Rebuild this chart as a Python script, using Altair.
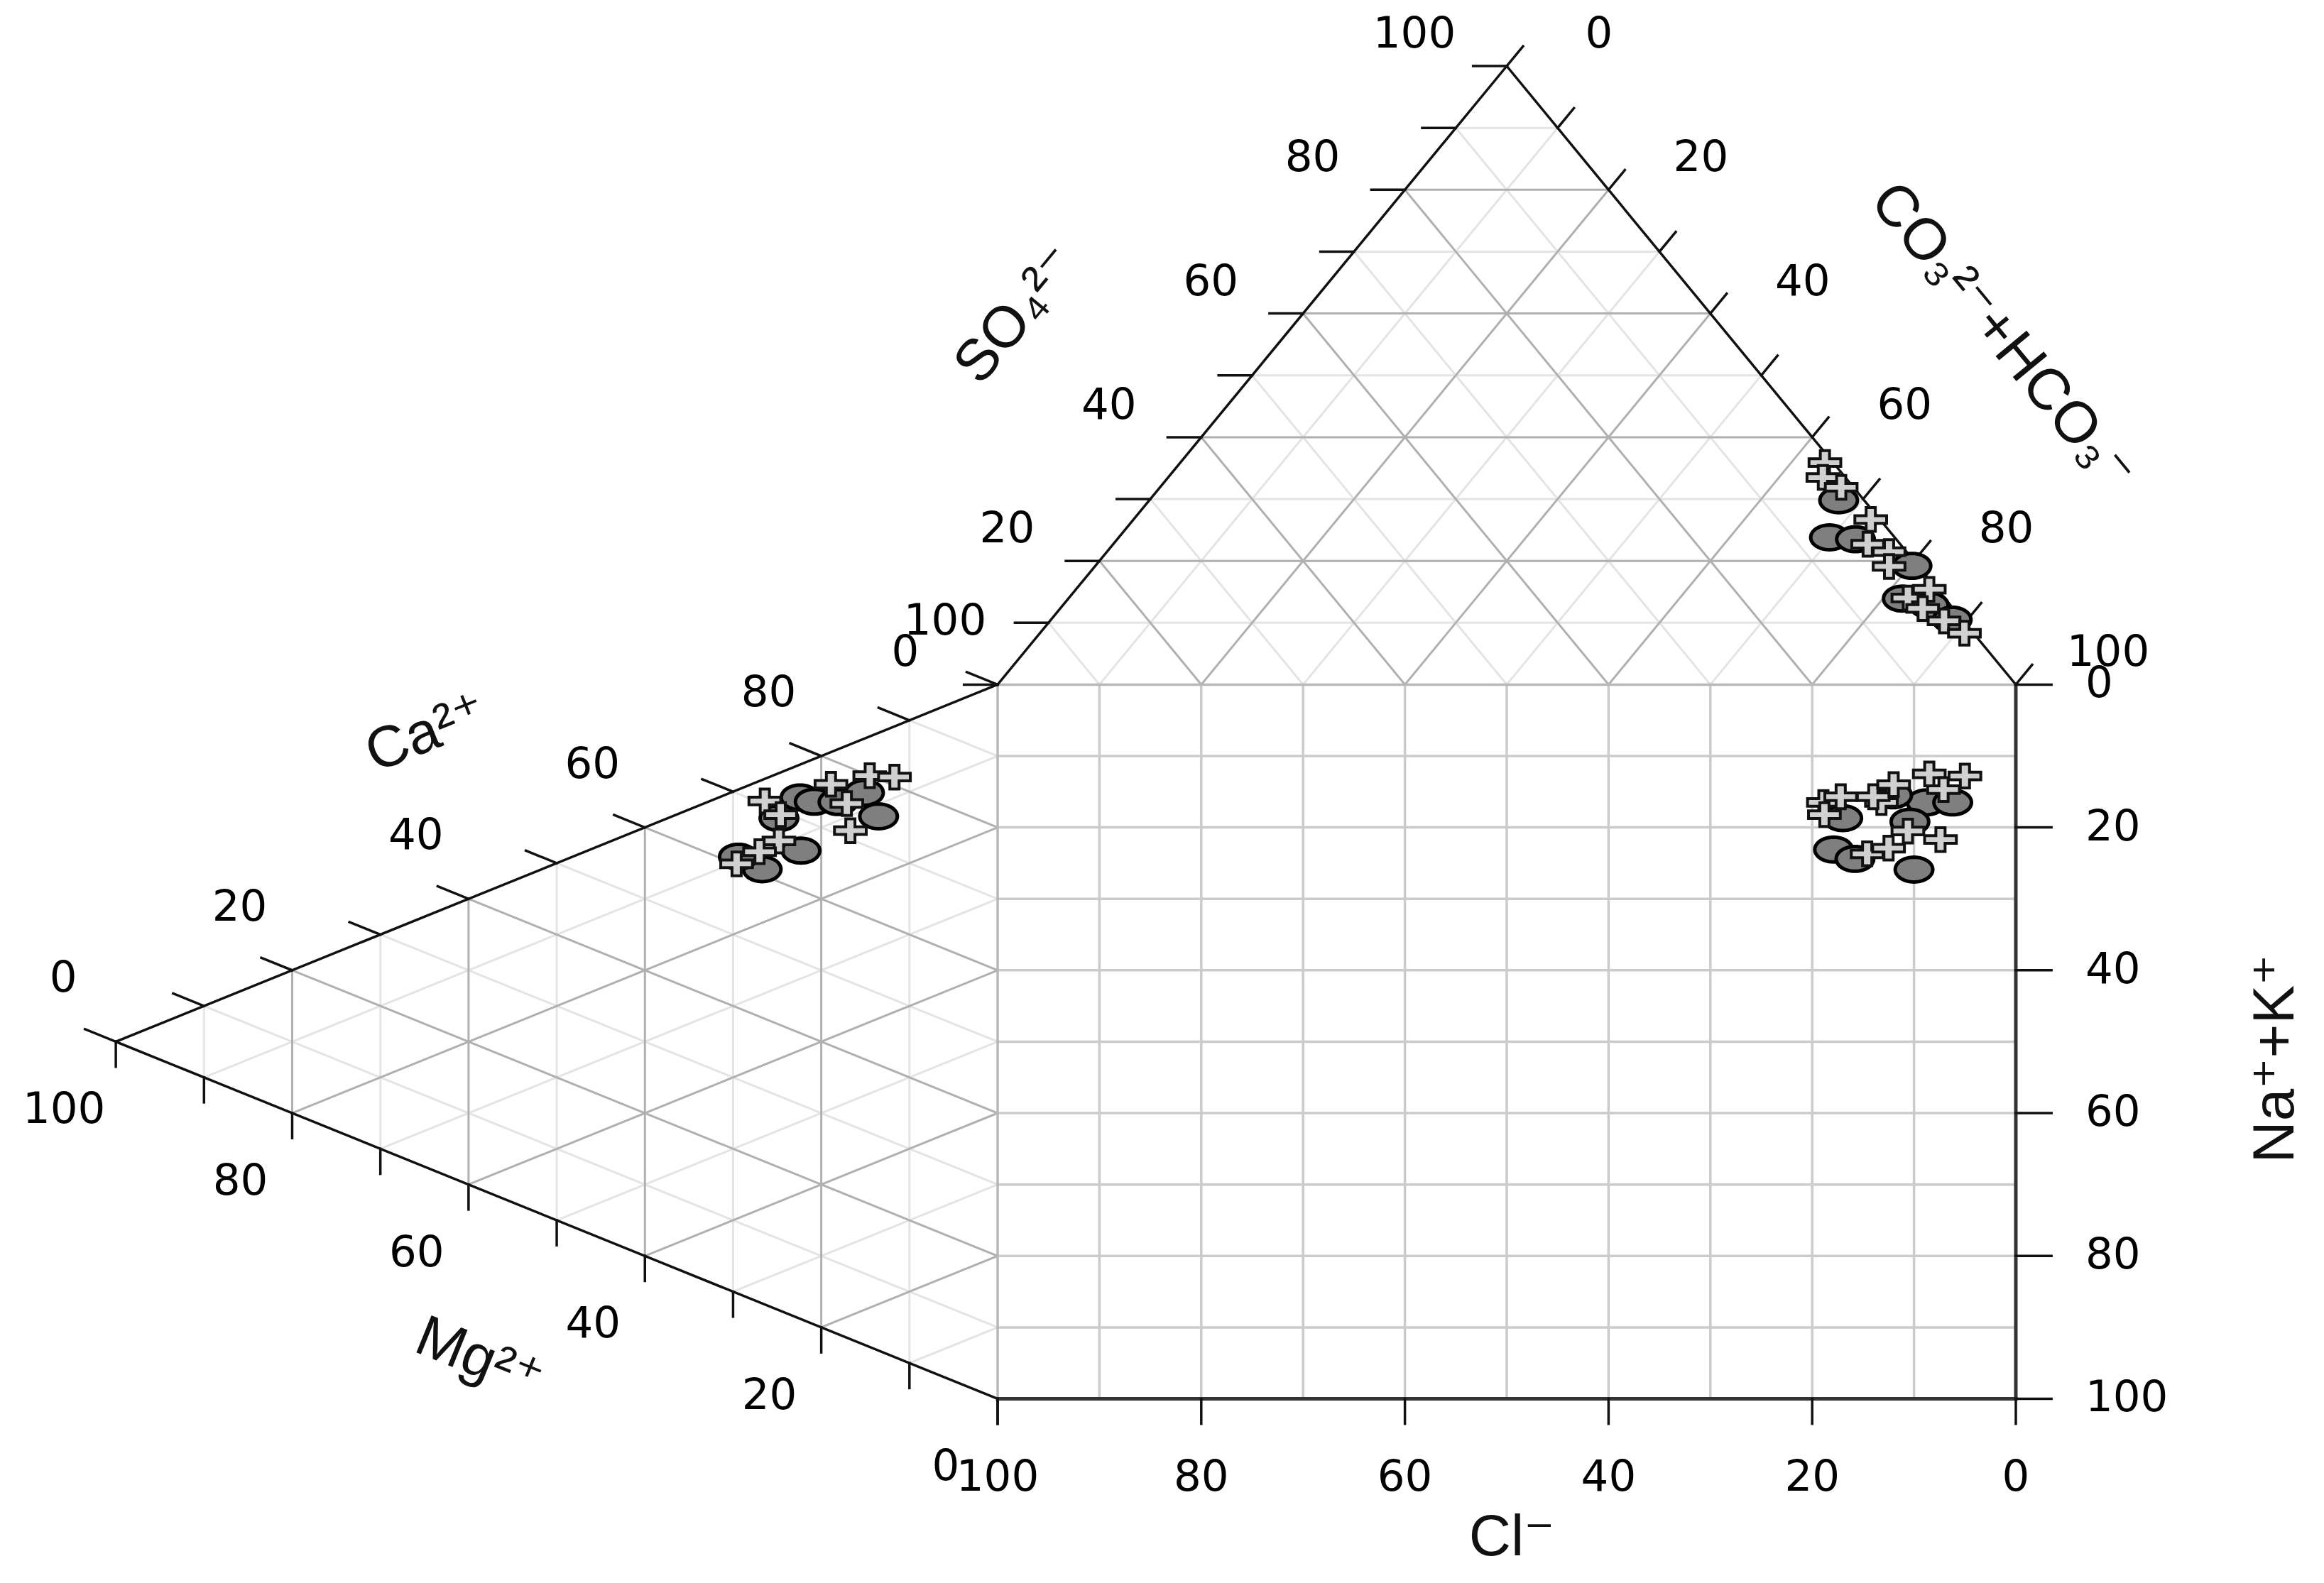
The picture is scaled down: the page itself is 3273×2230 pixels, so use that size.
import numpy as np
import pandas as pd
import altair as alt

H = np.sqrt(3) / 2  # height of an equilateral triangle with unit side

# ---------------- data (percent) ----------------
# cation triangle: Ca2+ and Mg2+ (Na+ + K+ is the remainder)
cat_circle_ca = [68.9, 73.0, 73.2, 74.5, 74.8, 77.3, 65.6, 60.8, 61.2]
cat_circle_mg = [24.8, 22.4, 20.8, 18.1, 13.5, 15.1, 22.3, 26.7, 29.4]
cat_cross_ca = [70.5, 69.5, 65.7, 63.1, 60.1, 76.6, 74.8, 80.0, 81.2, 71.2]
cat_cross_mg = [26.4, 24.6, 24.8, 27.0, 29.6, 18.9, 17.1, 14.5, 11.7, 16.7]
# anion triangle: SO4 2- and CO3 2- + HCO3 - (Cl- is the remainder)
an_circle_so4 = [29.8, 23.8, 23.5, 19.2, 13.9, 12.8, 10.5]
an_circle_hco3 = [67.7, 69.8, 72.5, 80.2, 81.9, 85.1, 88.5]
an_cross_so4 = [35.9, 33.5, 31.9, 26.7, 22.7, 21.5, 19.1, 14.0, 15.4, 12.3, 10.3, 8.3]
an_cross_hco3 = [63.3, 64.3, 66.9, 72.4, 74.1, 76.8, 78.0, 82.4, 83.8, 84.7, 87.8, 90.8]
# square: Cl- (x) and Na+ + K+ (y)
sq_circle_cl = [17.0, 17.9, 15.8, 10.0, 8.8, 6.2, 10.4, 12.1]
sq_circle_na = [18.7, 23.1, 24.4, 25.9, 16.5, 16.5, 19.2, 15.5]
sq_cross_cl = [18.9, 17.2, 18.8, 13.2, 14.0, 12.0, 8.5, 5.0, 7.1, 10.6, 7.4, 14.6, 12.5]
sq_cross_na = [16.5, 15.7, 18.2, 16.5, 15.7, 14.0, 12.5, 12.8, 14.7, 20.5, 21.7, 23.7, 22.9]

tern_ticks = list(range(0, 101, 10))
grid_vals = list(range(10, 100, 10))
label_vals = list(range(0, 101, 20))

titles = [
    ("SO₄²⁻", 1.9, 151.8, 309.5),
    ("CO₃²⁻+HCO₃⁻", 98.7, 148.7, 50.5),
    ("Ca²⁺", -56.1, 93.2, 338),
    ("Mg²⁺", -50.9, 5.6, 22),
    ("Na⁺+K⁺", 125.5, 47.6, 270),
    ("Cl⁻", 50.5, -19.4, 0),
]

# view extent (data units; the square is 100 x 100)
W, HGT = 3250, 2214
XMIN, XMAX = -97.42, 129.22
YMAX = 195.06
YMIN = YMAX - HGT / 10.061


# ---------------- geometry helpers ----------------
def anion_xy(so4, hco3):
    return hco3 + so4 / 2.0, 100 + H * so4


def cation_xy(ca, mg):
    return -H * mg, ca + mg / 2.0


def square_xy(cl, na):
    return 100 - cl, 100 - na


def segs(pairs):
    return pd.DataFrame([dict(x=a[0], y=a[1], x2=b[0], y2=b[1]) for a, b in pairs])


minor, major, sq = [], [], []
for v in grid_vals:
    tgt = major if v % 20 == 0 else minor
    tgt.append((anion_xy(v, 0), anion_xy(v, 100 - v)))
    tgt.append((anion_xy(0, v), anion_xy(100 - v, v)))
    tgt.append((anion_xy(0, 100 - v), anion_xy(100 - v, 0)))
    tgt.append((cation_xy(0, v), cation_xy(100 - v, v)))
    tgt.append((cation_xy(v, 0), cation_xy(v, 100 - v)))
    tgt.append((cation_xy(100 - v, 0), cation_xy(0, 100 - v)))
    sq.append((square_xy(v, 100), square_xy(v, 0)))
    sq.append((square_xy(100, v), square_xy(0, v)))

sq_border = [(square_xy(100, 0), square_xy(0, 0)), (square_xy(100, 0), square_xy(100, 100))]
outline = [
    (anion_xy(0, 0), anion_xy(100, 0)),
    (anion_xy(100, 0), anion_xy(0, 100)),
    (cation_xy(0, 100), cation_xy(100, 0)),
    (cation_xy(0, 100), cation_xy(0, 0)),
]
sq_dark = [(square_xy(0, 0), square_xy(0, 100)), (square_xy(100, 100), square_xy(0, 100))]


def shift(p, d):
    return (p[0] + d[0], p[1] + d[1])


ticks = []
for v in tern_ticks:
    ticks.append((anion_xy(v, 0), shift(anion_xy(v, 0), (-3.3, 0))))
    ticks.append((anion_xy(100 - v, v), shift(anion_xy(100 - v, v), (1.6, 2.77))))
    ticks.append((cation_xy(v, 100 - v), shift(cation_xy(v, 100 - v), (-3.03, 1.75))))
    ticks.append((cation_xy(0, v), shift(cation_xy(0, v), (0, -3.5))))
for v in label_vals:
    ticks.append((square_xy(v, 100), shift(square_xy(v, 100), (0, -3.5))))
    ticks.append((square_xy(0, v), shift(square_xy(0, v), (3.5, 0))))


def lab_df(fn):
    rows = []
    for v in label_vals:
        x, y = fn(v)
        rows.append(dict(x=x, y=y, t=str(v)))
    return pd.DataFrame(rows)


so4_lab = lab_df(lambda v: anion_xy(v, 0))
hco3_lab = lab_df(lambda v: anion_xy(100 - v, v))
ca_lab = lab_df(lambda v: cation_xy(v, 100 - v))
mg_lab = lab_df(lambda v: cation_xy(0, v))
cl_lab = lab_df(lambda v: square_xy(v, 100))
na_lab = lab_df(lambda v: square_xy(0, v))


def pts_df(fn, a, b):
    xy = [fn(p, q) for p, q in zip(a, b)]
    return pd.DataFrame(dict(x=[p[0] for p in xy], y=[p[1] for p in xy]))


circles = pd.concat([
    pts_df(cation_xy, cat_circle_ca, cat_circle_mg),
    pts_df(anion_xy, an_circle_so4, an_circle_hco3),
    pts_df(square_xy, sq_circle_cl, sq_circle_na),
])
crosses = pd.concat([
    pts_df(cation_xy, cat_cross_ca, cat_cross_mg),
    pts_df(anion_xy, an_cross_so4, an_cross_hco3),
    pts_df(square_xy, sq_cross_cl, sq_cross_na),
])

# ---------------- marks ----------------
xs = alt.Scale(domain=[XMIN, XMAX], nice=False, zero=False)
ys = alt.Scale(domain=[YMIN, YMAX], nice=False, zero=False)
X = alt.X("x:Q", scale=xs, axis=None)
Y = alt.Y("y:Q", scale=ys, axis=None)


def seg_layer(pairs, color, width):
    return alt.Chart(segs(pairs)).mark_rule(color=color, strokeWidth=width, strokeCap="square").encode(
        x=X, y=Y, x2="x2:Q", y2="y2:Q")


def text_layer(df, dx=0, dy=0, align="center"):
    return alt.Chart(df).mark_text(dx=dx, dy=dy, align=align, baseline="middle", fontSize=61,
                                   font="DejaVu Sans", color="#000000").encode(x=X, y=Y, text="t:N")


ang = np.linspace(0, 2 * np.pi, 48, endpoint=False)
ellipse = "M" + "L".join(f"{np.cos(a):.3f},{0.66 * np.sin(a):.3f}" for a in ang) + "Z"
cross = ("M-0.29,-0.75L0.29,-0.75L0.29,-0.24L1,-0.24L1,0.24L0.29,0.24L0.29,0.75"
         "L-0.29,0.75L-0.29,0.24L-1,0.24L-1,-0.24L-0.29,-0.24Z")

layers = [
    seg_layer(minor, "#e4e4e4", 3),
    seg_layer(major, "#b0b0b0", 3),
    seg_layer(sq, "#cbcbcb", 3.5),
    seg_layer(sq_border, "#b8b8b8", 3.5),
    seg_layer(outline, "#111111", 3.5),
    seg_layer(sq_dark, "#333333", 5),
    seg_layer(ticks, "#111111", 3.5),
    text_layer(so4_lab, dx=-130, dy=-44),
    text_layer(hco3_lab, dx=130, dy=-44),
    text_layer(ca_lab, dx=-74, dy=-88),
    text_layer(mg_lab, dx=-73, dy=97),
    text_layer(cl_lab, dy=112),
    text_layer(na_lab, dx=98, align="left"),
]
for t, tx, ty, a in titles:
    layers.append(
        alt.Chart(pd.DataFrame(dict(x=[tx], y=[ty], t=[t]))).mark_text(
            angle=a, align="center", baseline="middle", fontSize=82,
            font="Liberation Sans, DejaVu Sans", color="#111111").encode(x=X, y=Y, text="t:N"))

layers.append(alt.Chart(circles).mark_point(
    shape=ellipse, filled=True, fill="#7f7f7f", stroke="#000000", strokeWidth=5,
    size=2800, opacity=1, fillOpacity=1, strokeOpacity=1).encode(x=X, y=Y))
layers.append(alt.Chart(crosses).mark_point(
    shape=cross, filled=True, fill="#d0d0d0", stroke="#111111", strokeWidth=4,
    size=2000, opacity=1, fillOpacity=1, strokeOpacity=1).encode(x=X, y=Y))

chart = alt.layer(*layers).properties(
    width=W, height=HGT, padding=0, background="white",
    autosize=alt.AutoSizeParams(type="none"),
).configure_view(stroke=None)

chart.save("out.html", embed_options={"renderer": "svg", "actions": False})
